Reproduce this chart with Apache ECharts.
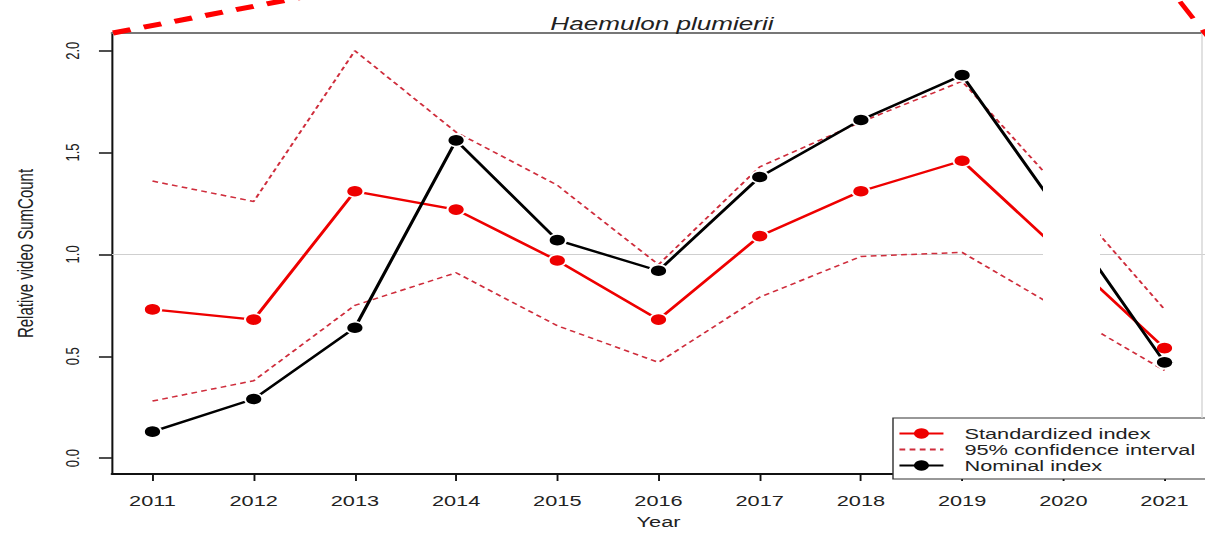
<!DOCTYPE html>
<html>
<head>
<meta charset="utf-8">
<script src="https://cdn.jsdelivr.net/npm/echarts@6/dist/echarts.min.js"></script>
<style>
  html, body { margin: 0; padding: 0; background: #fff; overflow: hidden; }
  #wrap { width: 1205px; height: 534px; overflow: hidden; position: relative; }
  #chart { height: 534px; transform-origin: 0 0; }
</style>
</head>
<body>
<div id="wrap"><div id="chart"></div></div>
<script>
// Relative video SumCount by year, Haemulon plumierii
const years = [2011, 2012, 2013, 2014, 2015, 2016, 2017, 2018, 2019, 2020, 2021];
const standardized = [0.73, 0.68, 1.31, 1.22, 0.97, 0.68, 1.09, 1.31, 1.46, 1.00, 0.54];
const nominal      = [0.13, 0.29, 0.64, 1.56, 1.07, 0.92, 1.38, 1.66, 1.88, 1.18, 0.47];
const upperCI      = [1.36, 1.26, 2.00, 1.60, 1.34, 0.95, 1.43, 1.65, 1.85, 1.30, 0.73];
const lowerCI      = [0.28, 0.38, 0.75, 0.91, 0.65, 0.47, 0.79, 0.99, 1.01, 0.72, 0.43];
const yTicks = [0, 0.5, 1, 1.5, 2];
const yTickLabels = ['0.0', '0.5', '1.0', '1.5', '2.0'];

// The figure is drawn in a narrower frame and widened horizontally,
// which gives its stretched lettering and oval point markers.
const S = 1.45;
const W = 1205, H = 534;
const W0 = W / S;
const ux = px => px / S;

const el = document.getElementById('chart');
el.style.width = W0 + 'px';
el.style.transform = 'scaleX(' + S + ')';

const pairs = vals => years.map((y, i) => [y, vals[i]]);

const RED = '#ee0000';
const CI_RED = '#cf2d3c';
const FONT = '"Liberation Sans", Arial, Helvetica, sans-serif';

const chart = echarts.init(el, null, { renderer: 'svg', width: W0, height: H });

chart.setOption({
  animation: false,
  backgroundColor: '#fff',
  title: {
    text: 'Haemulon plumierii',
    left: ux(662),
    top: 15,
    textAlign: 'center',
    padding: 0,
    textStyle: { fontFamily: FONT, fontStyle: 'italic', fontWeight: 'normal', fontSize: 18, color: '#222' }
  },
  grid: { left: ux(112), right: 0, top: 33, bottom: 55, containLabel: false },
  legend: {
    orient: 'vertical',
    left: ux(893),
    top: 418,
    data: ['Standardized index', '95% confidence interval', 'Nominal index'],
    selectedMode: false,
    borderColor: '#333',
    borderWidth: 1,
    borderRadius: 0,
    backgroundColor: '#fff',
    padding: [8, 8, 6, ux(5)],
    itemWidth: ux(44),
    itemHeight: 13,
    itemGap: 1,
    itemStyle: { borderWidth: 0 },
    textStyle: { fontFamily: FONT, fontSize: 15, color: '#222', padding: [0, 0, 0, ux(21) - 5] }
  },
  xAxis: [{
    type: 'value',
    min: 2010.6,
    max: 2021.4,
    name: 'Year',
    nameLocation: 'middle',
    nameGap: 40,
    nameTextStyle: { fontFamily: FONT, fontSize: 15, color: '#222' },
    axisLine: { show: true, onZero: false, lineStyle: { color: '#111', width: 2 } },
    axisTick: { show: true, customValues: years, length: 7, lineStyle: { color: '#111', width: 1.3 } },
    axisLabel: {
      customValues: years, margin: 19, fontFamily: FONT, fontSize: 15, color: '#222',
      formatter: v => String(v)
    },
    splitLine: { show: false }
  }, {
    type: 'value',
    position: 'top',
    min: 2010.6,
    max: 2021.4,
    axisLine: { show: true, onZero: false, lineStyle: { color: '#777', width: 2 } },
    axisTick: { show: false },
    axisLabel: { show: false },
    splitLine: { show: false }
  }],
  yAxis: {
    type: 'value',
    min: -0.078,
    max: 2.087,
    name: 'Relative video SumCount',
    nameLocation: 'middle',
    nameRotate: 90,
    nameGap: 52,
    nameTextStyle: { fontFamily: FONT, fontSize: 15, color: '#222' },
    axisLine: { show: true, onZero: false, lineStyle: { color: '#111', width: 1.4 } },
    axisTick: { show: true, customValues: yTicks, length: 9, lineStyle: { color: '#222', width: 1.6 } },
    axisLabel: {
      customValues: yTicks, rotate: 90, margin: 21, fontFamily: FONT, fontSize: 13, color: '#222',
      formatter: v => yTickLabels[yTicks.indexOf(Math.round(v * 10) / 10)] ?? v.toFixed(1)
    },
    splitLine: { show: false }
  },
  series: [{
    name: 'Standardized index',
    type: 'line',
    data: pairs(standardized),
    symbol: 'circle',
    symbolSize: 12,
    lineStyle: { color: RED, width: 2.3 },
    itemStyle: { color: RED, borderColor: '#fff', borderWidth: 1.5 },
    z: 3,
    markLine: {
      silent: true,
      symbol: 'none',
      label: { show: false },
      lineStyle: { color: '#cfcfcf', width: 1, type: 'solid' },
      data: [{ yAxis: 1 }],
      z: 1
    }
  }, {
    name: '95% confidence interval',
    type: 'line',
    data: pairs(upperCI),
    symbol: 'rect',
    showSymbol: false,
    lineStyle: { color: CI_RED, width: 1.5, type: [4, 3] },
    itemStyle: { color: 'rgba(0,0,0,0)' },
    z: 2
  }, {
    name: '95% confidence interval',
    type: 'line',
    data: pairs(lowerCI),
    symbol: 'rect',
    showSymbol: false,
    lineStyle: { color: CI_RED, width: 1.5, type: [4, 3] },
    itemStyle: { color: 'rgba(0,0,0,0)' },
    z: 2
  }, {
    name: 'Nominal index',
    type: 'line',
    data: pairs(nominal),
    symbol: 'circle',
    symbolSize: 12,
    lineStyle: { color: '#000', width: 2.3 },
    itemStyle: { color: '#000', borderColor: '#fff', borderWidth: 1.5 },
    z: 4
  }],
  graphic: [
    // blank patch over the plot near 2020
    { type: 'rect', z: 100, silent: true,
      shape: { x: ux(1043), y: 130, width: ux(57), height: 220 },
      style: { fill: '#fff' } },
    // faint right-hand frame edge
    { type: 'line', z: 90, silent: true,
      shape: { x1: ux(1202), y1: 33, x2: ux(1202), y2: 418 },
      style: { stroke: '#d6d6d6', lineWidth: 1 } },
    // thick red dashed highlight outline (left and right portions)
    { type: 'line', z: 110, silent: true,
      shape: { x1: ux(113), y1: 33, x2: ux(345), y2: -11 },
      style: { stroke: '#ff0000', lineWidth: 5, lineDash: [12.5, 9.5] } },
    { type: 'line', z: 110, silent: true,
      shape: { x1: ux(1180), y1: 1.7, x2: ux(1215), y2: 46 },
      style: { stroke: '#ff0000', lineWidth: 3.6, lineDash: [19, 13] } }
  ]
});
</script>
</body>
</html>
